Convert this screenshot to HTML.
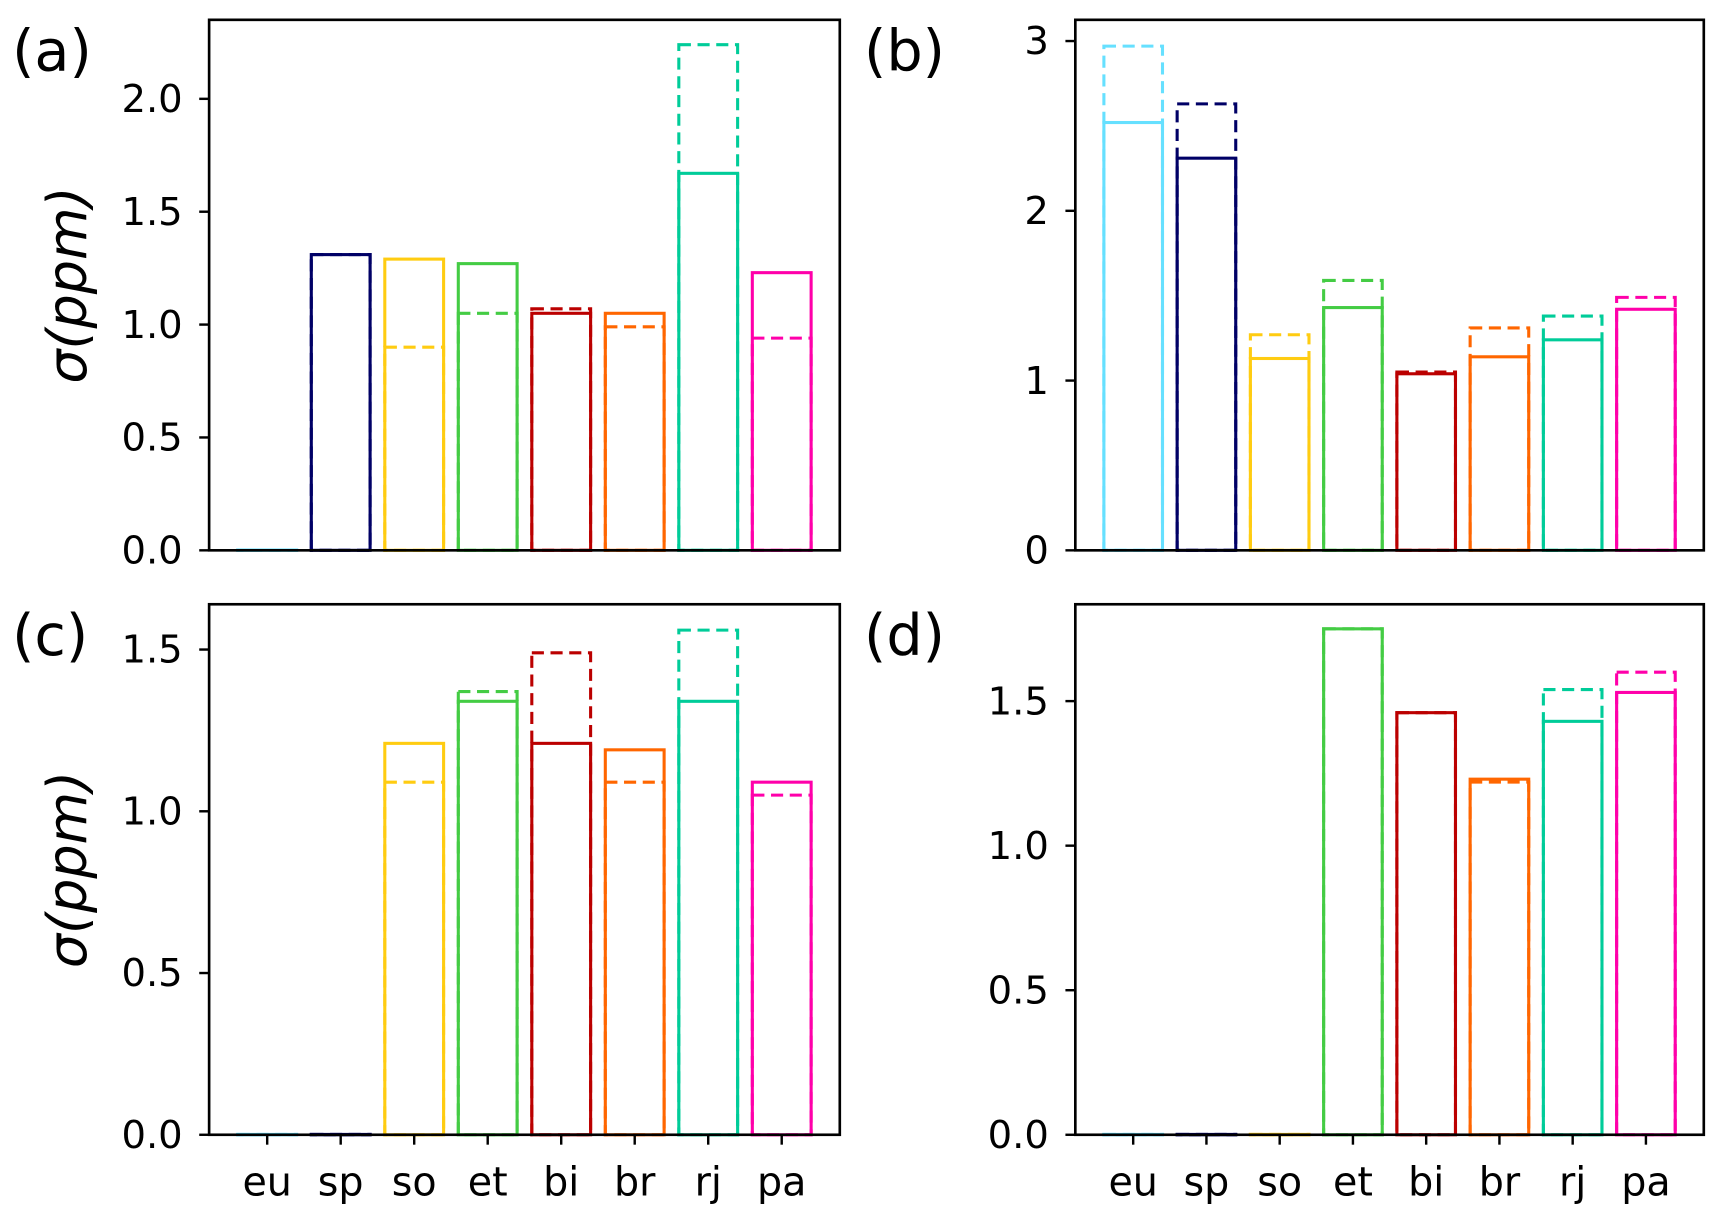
<!DOCTYPE html>
<html><head><meta charset="utf-8"><style>html,body{margin:0;padding:0;background:#fff}svg{display:block}</style></head>
<body>
<svg id="fig" xmlns="http://www.w3.org/2000/svg" width="1717" height="1217" viewBox="0 0 1560 1105.7" font-family="'DejaVu Sans','Liberation Sans',sans-serif"></svg>
<script>
const categories = ["eu","sp","so","et","bi","br","rj","pa"];
const colors = ["#66e0ff","#000066","#ffcc11","#44cc44","#bb0000","#ff6600","#00cc99","#ff00aa"];
const solidA = [0,1.31,1.29,1.27,1.05,1.05,1.67,1.23];
const dashA  = [0,1.31,0.90,1.05,1.07,0.99,2.24,0.94];
const solidB = [2.52,2.31,1.13,1.43,1.04,1.14,1.24,1.42];
const dashB  = [2.97,2.63,1.27,1.59,1.05,1.31,1.38,1.49];
const solidC = [0,0,1.21,1.34,1.21,1.19,1.34,1.09];
const dashC  = [0,0,1.09,1.37,1.49,1.09,1.56,1.05];
const solidD = [0,0,0,1.75,1.46,1.23,1.43,1.53];
const dashD  = [0,0,0,1.75,1.46,1.22,1.54,1.60];
const ticksA = ["0.0","0.5","1.0","1.5","2.0"];
const ticksB = ["0","1","2","3"];
const ticksC = ["0.0","0.5","1.0","1.5"];
const ticksD = ["0.0","0.5","1.0","1.5"];

const NS="http://www.w3.org/2000/svg";
const svg=document.getElementById('fig');
function mk(tag,attrs,parent){const e=document.createElementNS(NS,tag);for(const k in attrs)e.setAttribute(k,attrs[k]);(parent||svg).appendChild(e);return e;}

const panels=[
 {id:'a',x0:190,x1:763,y0:18,y1:500,ymax:2.35,solid:solidA,dash:dashA,ticks:ticksA,ylabel:true,xlabels:false},
 {id:'b',x0:977,x1:1548,y0:18,y1:500,ymax:3.125,solid:solidB,dash:dashB,ticks:ticksB,ylabel:false,xlabels:false},
 {id:'c',x0:190,x1:763,y0:549,y1:1031,ymax:1.64,solid:solidC,dash:dashC,ticks:ticksC,ylabel:true,xlabels:true},
 {id:'d',x0:977,x1:1548,y0:549,y1:1031,ymax:1.835,solid:solidD,dash:dashD,ticks:ticksD,ylabel:false,xlabels:true}
];

panels.forEach(p=>{
  const g=mk('g',{});
  
  
  const xs=v=>p.x0+(v+0.79)/8.58*(p.x1-p.x0);
  const ys=v=>p.y1-v/p.ymax*(p.y1-p.y0);
  const unit=(p.x1-p.x0)/8.58;
  categories.forEach((c,i)=>{
    const bg=mk('g',{},g);
    
    
    const l=xs(i-0.4), w=0.8*unit;
    const dv=p.dash[i], sv=p.solid[i];
    const dh=Math.max(ys(0)-ys(dv),0.3), sh=Math.max(ys(0)-ys(sv),0.3);
    const dr=mk('rect',{x:l,y:ys(0)-dh,width:w,height:dh,fill:'none',stroke:colors[i],'stroke-width':2.8,'stroke-dasharray':'11,6'},bg);
    
    
    const sr=mk('rect',{x:l,y:ys(0)-sh,width:w,height:sh,fill:'none',stroke:colors[i],'stroke-width':2.8},bg);
    
    
    if(p.xlabels){
      mk('line',{x1:xs(i),x2:xs(i),y1:p.y1,y2:p.y1+9,stroke:'#000','stroke-width':2.2},g);
      const t=mk('text',{x:xs(i),y:p.y1+55,'text-anchor':'middle','font-size':36,fill:'#000'},g);
      t.textContent=c;
      
      
    }
  });
  p.ticks.forEach(tl=>{
    const v=parseFloat(tl), y=ys(v);
    mk('line',{x1:p.x0-9,x2:p.x0,y1:y,y2:y,stroke:'#000','stroke-width':2.2},g);
    const t=mk('text',{x:p.x0-24,y:y+12,'text-anchor':'end','font-size':35,fill:'#000'},g);
    t.textContent=tl;
    
    
  });
  const fr=mk('rect',{x:p.x0,y:p.y0,width:p.x1-p.x0,height:p.y1-p.y0,fill:'none',stroke:'#000','stroke-width':2.4},g);
  
  
  const lb=mk('text',{x:p.x0>500 ? 785 : 11,y:p.y0+46,'font-size':52,fill:'#000'},g);
  lb.textContent='('+p.id+')';
  
  
  if(p.ylabel){
    const cy=(p.y0+p.y1)/2;
    const yl=mk('text',{x:0,y:0,transform:'translate(78,'+cy+') rotate(-90)','text-anchor':'middle','font-size':49,'font-style':'italic',fill:'#000'},g);
    yl.textContent='σ(ppm)';
    
    
  }
});
</script>
</body></html>
